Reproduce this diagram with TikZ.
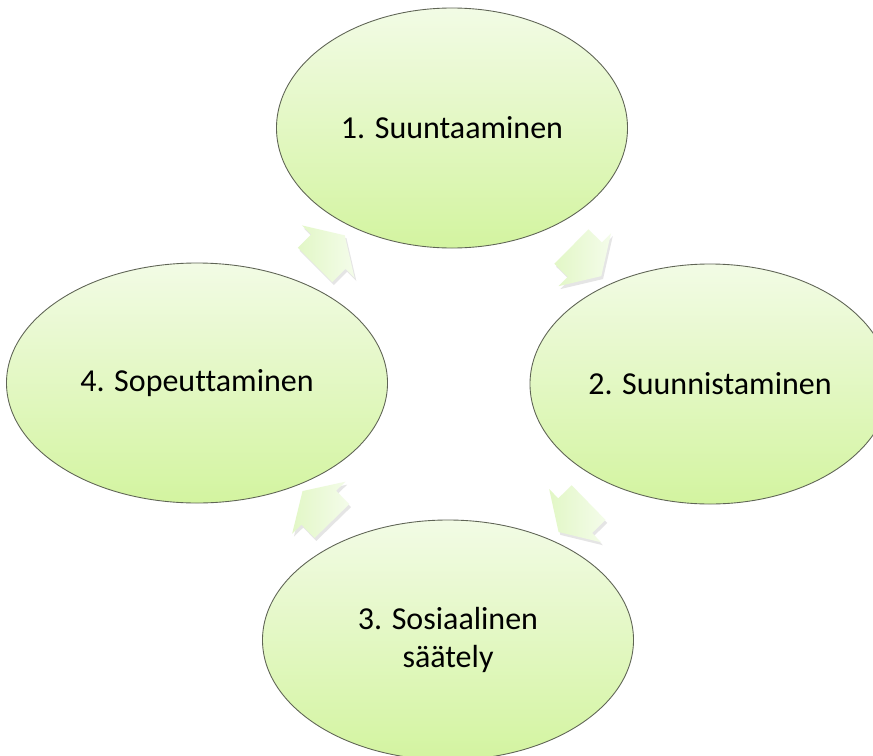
\documentclass[tikz,border=0pt]{standalone}
\usepackage{fontspec}
\setmainfont[Ligatures=NoCommon]{Carlito}
\usetikzlibrary{shapes.geometric,shapes.arrows,shadows,positioning,calc}
\definecolor{eltop} {RGB}{242,251,229}
\definecolor{elbot} {RGB}{211,244,160}
\definecolor{eledge}{RGB}{95,100,85}
\definecolor{arback}{RGB}{226,247,198}
\definecolor{arhead}{RGB}{244,252,234}
\tikzset{
  phase/.style  ={ellipse, draw=eledge, line width=0.75pt, top color=eltop,
                  bottom color=elbot, minimum width=#1, minimum height=7.2cm,
                  inner sep=0pt, align=center, font=\fontsize{27.3}{32}\selectfont},
  cycarr/.style ={single arrow, draw=none, left color=arback, right color=arhead,
                  minimum height=1.26cm, minimum width=0pt, inner xsep=0pt,
                  inner ysep=0.72cm, single arrow head extend=0.39cm,
                  single arrow tip angle=116,
                  drop shadow={shadow xshift=1.5pt, shadow yshift=-2.5pt, opacity=0.2},
                  sloped, allow upside down},
}

\begin{document}
\begin{tikzpicture}[x=0.03cm, y=-0.03cm]
\path[fill=white, use as bounding box] (0,0) rectangle (873,755);

%% Phases of the cycle
\node[phase=10.53cm] (suunt) at (452,128) {1. Suuntaaminen};
\node[phase=10.8cm]  (suunn) at (710,384) {2. Suunnistaminen};
\node[phase=11.13cm] (sos)   at (448,640) {3. Sosiaalinen\\säätely};
\node[phase=11.43cm] (sopeu) at (197,383) {4. Sopeuttaminen};

%% Block arrows between phases
\path (suunt.center) -- node[cycarr]{} (suunn.center);
\path (suunn.center) -- node[cycarr]{} (sos.center);
\path (sos.center)   -- node[cycarr]{} (sopeu.center);
\path (sopeu.center) -- node[cycarr]{} (suunt.center);

\end{tikzpicture}
\end{document}
